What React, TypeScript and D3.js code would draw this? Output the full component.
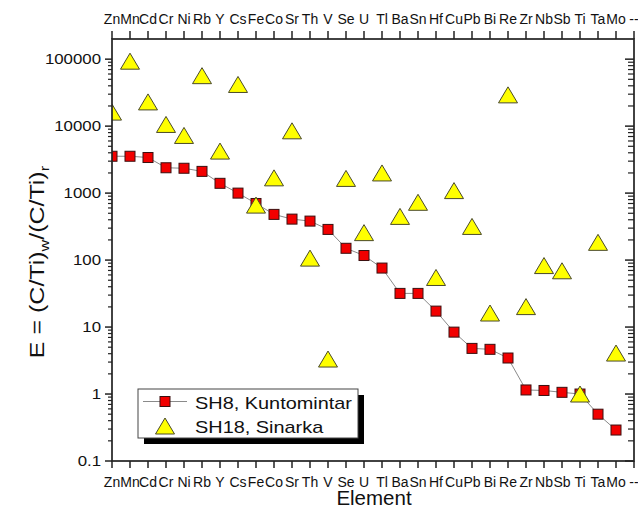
import React from "react";
import * as d3 from "d3";

// Element order along the x axis (top and bottom)
const elements = [
  "Zn", "Mn", "Cd", "Cr", "Ni", "Rb", "Y", "Cs", "Fe", "Co",
  "Sr", "Th", "V", "Se", "U", "Tl", "Ba", "Sn", "Hf", "Cu",
  "Pb", "Bi", "Re", "Zr", "Nb", "Sb", "Ti", "Ta", "Mo", "--",
];

// Enrichment factors, SH8 Kuntomintar (squares, connected)
const sh8 = [
  3550, 3550, 3400, 2390, 2350, 2110, 1400, 1000, 700, 481,
  409, 382, 287, 150, 117, 76, 31.8, 31.8, 17.3, 8.4,
  4.8, 4.65, 3.45, 1.15, 1.13, 1.06, 1, 0.5, 0.29,
];

// Enrichment factors, SH18 Sinarka (triangles)
const sh18 = [
  16200, 93300, 23000, 10600, 7260, 56700, 4240, 41900, 662, 1690,
  8510, 107, 3.33, 1657, 257, 2000, 449, 729, 55, 1090,
  318, 16.2, 29300, 20.2, 82.8, 69.2, 1, 184, 4.09,
];

const yTickValues = [0.1, 1, 10, 100, 1000, 10000, 100000];
const yTickLabels = ["0.1", "1", "10", "100", "1000", "10000", "100000"];

const legendNames = ["SH8, Kuntomintar", "SH18, Sinarka"];

const W = 638;
const H = 509;
const L = 112;
const R = 634;
const T = 39;
const B = 461;

const FONT = "'Liberation Sans', Arial, Helvetica, sans-serif";
const AXIS = "#222";

function Label({ x, y, size, sx = 1, anchor = "middle", children, rotate = 0 }: any) {
  const tr = `translate(${x},${y}) rotate(${rotate}) scale(${sx},1)`;
  return (
    <text transform={tr} fontSize={size} fontFamily={FONT} textAnchor={anchor} fill="#111">
      {children}
    </text>
  );
}

function Tri({ cx, cy, w = 19, h = 16 }: any) {
  const p = `M${cx},${cy - h / 2}L${cx + w / 2},${cy + h / 2}L${cx - w / 2},${cy + h / 2}Z`;
  return <path d={p} fill="#ffff00" stroke="#4a4a2a" strokeWidth={1} />;
}

function Sq({ cx, cy, s = 10 }: any) {
  return <rect x={cx - s / 2} y={cy - s / 2} width={s} height={s} fill="#f20000" stroke="#3a1010" strokeWidth={1} />;
}

export default function App() {
  const x = d3.scalePoint<string>().domain(elements).range([L, R]);
  const y = d3.scaleLog().domain([0.1, 2e5]).range([B, T]);

  const minor: number[] = [];
  for (let e = -1; e <= 5; e++) {
    for (let m = 2; m <= 9; m++) {
      const v = m * Math.pow(10, e);
      if (v < 2e5) minor.push(v);
    }
  }

  const line = d3
    .line<number>()
    .x((_, i) => x(elements[i]) as number)
    .y((d) => y(d));

  return (
    <svg width={W} height={H} style={{ position: "absolute", left: 0, top: 0, background: "#fff" }}>
      <defs>
        <clipPath id="plotClip">
          <rect x={L} y={T} width={R - L} height={B - T} />
        </clipPath>
      </defs>
      <rect x={0} y={0} width={W} height={H} fill="#fff" />

      {/* data */}
      <g clipPath="url(#plotClip)">
        <path d={line(sh8) || ""} fill="none" stroke="#8a8a8a" strokeWidth={1} />
        {sh8.map((v, i) => (
          <Sq key={"s" + i} cx={x(elements[i])} cy={y(v)} />
        ))}
        {sh18.map((v, i) => (
          <Tri key={"t" + i} cx={x(elements[i])} cy={y(v)} />
        ))}
      </g>

      {/* frame */}
      <rect x={L} y={T} width={R - L} height={B - T} fill="none" stroke={AXIS} strokeWidth={1.7} />

      {/* y ticks: left outward, right inward */}
      {yTickValues.map((v, i) => (
        <g key={"yt" + i}>
          <line x1={L - 7} x2={L} y1={y(v)} y2={y(v)} stroke={AXIS} strokeWidth={1.5} />
          <line x1={R - 9} x2={R} y1={y(v)} y2={y(v)} stroke={AXIS} strokeWidth={1.5} />
          <Label x={101} y={y(v) + 5} size={14.5} sx={1.16} anchor="end">
            {yTickLabels[i]}
          </Label>
        </g>
      ))}
      {minor.map((v, i) => (
        <g key={"ym" + i}>
          <line x1={L - 4} x2={L} y1={y(v)} y2={y(v)} stroke={AXIS} strokeWidth={1.2} />
          <line x1={R - 6} x2={R} y1={y(v)} y2={y(v)} stroke={AXIS} strokeWidth={1.2} />
        </g>
      ))}

      {/* x ticks top and bottom */}
      {elements.map((el) => {
        const px = x(el) as number;
        return (
          <g key={"x" + el}>
            <line x1={px} x2={px} y1={T - 8} y2={T} stroke={AXIS} strokeWidth={1.5} />
            <line x1={px} x2={px} y1={B} y2={B + 7} stroke={AXIS} strokeWidth={1.5} />
            <Label x={px} y={24} size={14}>{el}</Label>
            <Label x={px} y={487} size={14}>{el}</Label>
          </g>
        );
      })}

      {/* axis titles */}
      <Label x={374} y={505} size={20.5}>Element</Label>
      <text
        transform={`translate(44,262) rotate(-90) scale(1.25,1)`}
        fontSize={20}
        fontFamily={FONT}
        textAnchor="middle"
        fill="#111"
      >
        E = (C/Ti)
        <tspan fontSize={13} dy={5}>w</tspan>
        <tspan dy={-5}>/(C/Ti)</tspan>
        <tspan fontSize={13} dy={5}>r</tspan>
      </text>

      {/* legend */}
      <rect x={144} y={395} width={220} height={49} fill="#000" />
      <rect x={138} y={389} width={220} height={49} fill="#fff" stroke="#444" strokeWidth={1} />
      <line x1={143} x2={187} y1={401.5} y2={401.5} stroke="#8a8a8a" strokeWidth={1} />
      <Sq cx={165} cy={401.5} />
      <Tri cx={165} cy={426} />
      <Label x={195} y={409} size={17} sx={1.17} anchor="start">{legendNames[0]}</Label>
      <Label x={195} y={433} size={17} sx={1.17} anchor="start">{legendNames[1]}</Label>
    </svg>
  );
}
